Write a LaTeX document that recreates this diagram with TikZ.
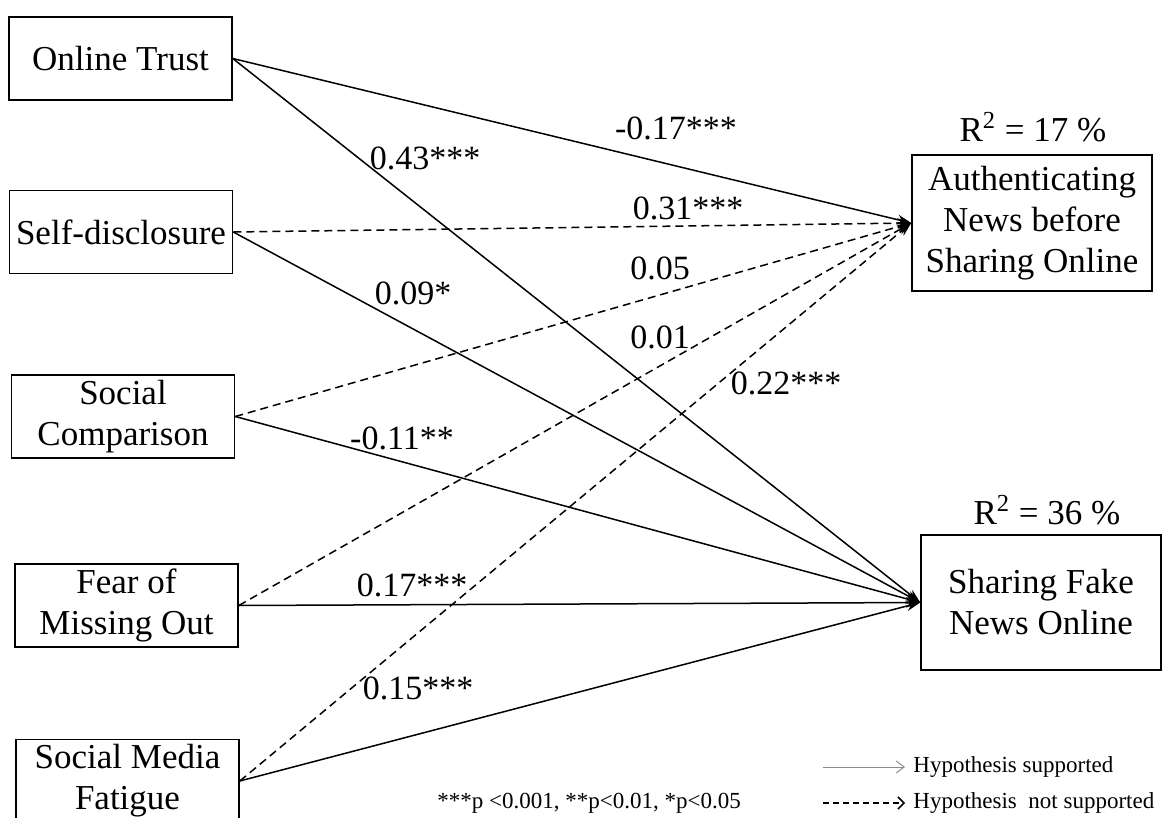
\documentclass[tikz,border=0pt]{standalone}
\usepackage{fontspec}
\setmainfont{Liberation Serif}
\usetikzlibrary{arrows.meta}
\definecolor{GrayMid}{HTML}{8C8C8C}
\tikzset{
  box/.style={
    rectangle, draw, line width=0.8pt,
    minimum width=#1, minimum height=41.5pt,
    align=center, inner sep=2pt,
    font=\fontsize{17.5}{20.5}\selectfont
  },
  box/.default=111.5pt,
  lbl/.style={font=\fontsize{17}{20}\selectfont, inner sep=0pt},
  note/.style={font=\fontsize{11.5}{13}\selectfont, inner sep=0pt, anchor=west},
  arr/.style={-{Stealth[length=7pt, width=5pt]}, line width=0.75pt},
  dArr/.style={arr, dash pattern=on 4pt off 2.5pt},
}

\begin{document}
\begin{tikzpicture}[x=0.5pt, y=-0.5pt]
\useasboundingbox (0,0) rectangle (1167,818);

% predictors
\node[box] at (120.5,58.5) (ot) {Online Trust};
\node[box] at (121,232) (sd) {Self-disclosure};
\node[box] at (123,416.5) (sc) {Social\\Comparison};
\node[box] at (126.5,605.5) (fomo) {Fear of\\Missing Out};
\node[box] at (127.5,781) (smf) {Social Media\\Fatigue};

% outcomes
\node[box=120pt, minimum height=68pt] at (1032,223) (auth) {Authenticating\\News before\\Sharing Online};
\node[box=120pt, minimum height=67.5pt] at (1041,602.5) (share) {Sharing Fake\\News Online};
\node[lbl, font=\fontsize{17.5}{20}\selectfont] at (1033,127) (r2a) {R\textsuperscript{2} = 17 \%};
\node[lbl, font=\fontsize{17.5}{20}\selectfont] at (1047,510) (r2b) {R\textsuperscript{2} = 36 \%};

% paths
\draw[arr] (ot.east) -- (auth.west);
\draw[arr] (ot.east) -- (share.west);
\draw[dArr] (sd.east) -- (auth.west);
\draw[arr] (sd.east) -- (share.west);
\draw[dArr] (sc.east) -- (auth.west);
\draw[arr] (sc.east) -- (share.west);
\draw[dArr] (fomo.east) -- (auth.west);
\draw[arr] (fomo.east) -- (share.west);
\draw[dArr] (smf.east) -- (auth.west);
\draw[arr] (smf.east) -- (share.west);

% coefficients
\node[lbl] at (676,128) (cOTa) {-0.17***};
\node[lbl] at (425,158) (cOTs) {0.43***};
\node[lbl] at (688,208) (cSDa) {0.31***};
\node[lbl] at (413,293) (cSDs) {0.09*};
\node[lbl] at (660,268) (cSCa) {0.05};
\node[lbl] at (660,337) (cFOa) {0.01};
\node[lbl] at (786,383) (cSMa) {0.22***};
\node[lbl] at (402,438) (cSCs) {-0.11**};
\node[lbl] at (412,585) (cFOs) {0.17***};
\node[lbl] at (418,688) (cSMs) {0.15***};

% legend
\coordinate (ls1) at (823,767);
\coordinate (ls2) at (905,767);
\coordinate (ld1) at (823,803);
\coordinate (ld2) at (905,803);
\draw[GrayMid, line width=0.5pt, -{Straight Barb[length=4pt, width=6pt]}] (ls1) -- (ls2);
\draw[line width=0.75pt, dash pattern=on 3pt off 2pt, -{Straight Barb[length=3pt, width=6pt]}] (ld1) -- (ld2);
\node[note] at (913,767) (lsup) {Hypothesis supported};
\node[note] at (913,803) (lnot) {Hypothesis\ \ not supported};
\node[note] at (437,803) (pval) {***p <0.001, **p<0.01, *p<0.05};

\end{tikzpicture}
\end{document}
